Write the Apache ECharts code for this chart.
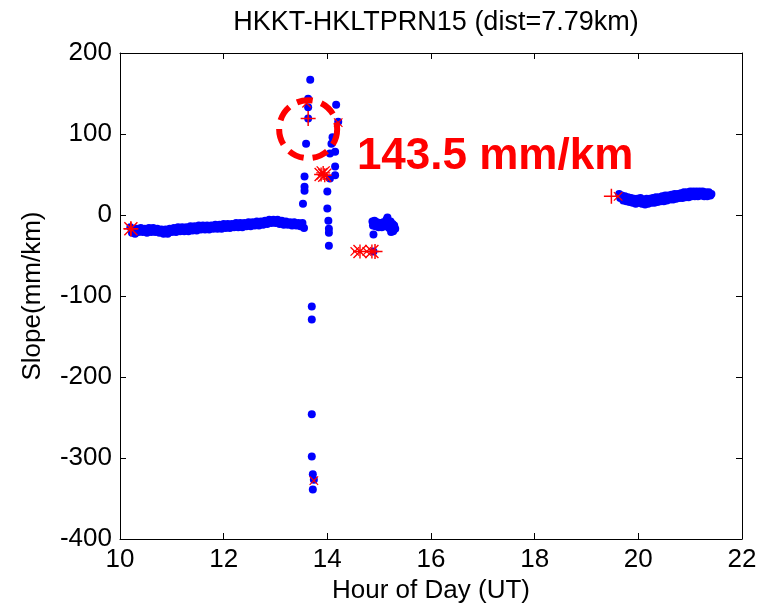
<!DOCTYPE html>
<html>
<head>
<meta charset="utf-8">
<script src="https://cdn.jsdelivr.net/npm/echarts@6/dist/echarts.min.js"></script>
<style>html,body{margin:0;padding:0;background:#fff}#c{width:763px;height:609px}</style>
</head>
<body>
<div id="c"></div>
<script>
// ---- data (hour of day, slope mm/km) ----
const titleText = 'HKKT-HKLTPRN15 (dist=7.79km)';
const xName = 'Hour of Day (UT)';
const yName = 'Slope(mm/km)';
const annotationText = '143.5 mm/km';

const seg1 = [[10.20,-15],[10.23,-22],[10.26,-18],[10.29,-23],[10.32,-17],[10.36,-21],[10.40,-16],[10.44,-21],[10.48,-17],[10.52,-22],[10.56,-16],[10.60,-21],[10.64,-16],[10.68,-21],[10.72,-17],[10.76,-22],[10.80,-18],[10.84,-23],[10.88,-18],[10.92,-23],[10.96,-17],[11.00,-21],[11.04,-16],[11.08,-21],[11.12,-15],[11.16,-20],[11.20,-15],[11.24,-20],[11.28,-15],[11.32,-20],[11.36,-14],[11.40,-19],[11.44,-14],[11.48,-19],[11.52,-13],[11.56,-18],[11.60,-13],[11.64,-18],[11.68,-13],[11.72,-18],[11.76,-13],[11.80,-17],[11.84,-12],[11.88,-17],[11.92,-12],[11.96,-17],[12.00,-11],[12.04,-16],[12.08,-11],[12.12,-16],[12.16,-11],[12.20,-15],[12.24,-10],[12.28,-15],[12.32,-10],[12.36,-15],[12.40,-10],[12.44,-14],[12.48,-9],[12.52,-14],[12.56,-9],[12.60,-13],[12.64,-8],[12.68,-13],[12.72,-8],[12.76,-12],[12.80,-7],[12.84,-11],[12.88,-6],[12.92,-10],[12.96,-6],[13.00,-10],[13.04,-6],[13.08,-11],[13.12,-7],[13.16,-12],[13.20,-8],[13.24,-12],[13.28,-9],[13.32,-13],[13.36,-9],[13.40,-13],[13.44,-10],[13.48,-14],[13.52,-10],[13.55,-16]];
const spike1 = [[13.67,167],[13.63,143.5],[13.63,133],[13.63,119],[13.59,88],[13.56,47.5],[13.56,35],[13.56,30],[13.53,14],[13.70,-113],[13.70,-129],[13.70,-246],[13.70,-298],[13.72,-320],[13.74,-327],[13.72,-339]];
const spike2 = [[14.17,136],[14.21,115],[14.10,96],[14.08,88],[14.15,78],[14.05,76],[14.15,60],[14.15,49],[14.05,45],[14.00,29],[14.00,8],[14.02,-7],[14.03,-17],[14.03,-22],[14.03,-38]];
const seg3 = [[14.87,-8],[14.88,-13],[14.91,-7],[14.93,-14],[14.96,-9],[14.99,-15],[15.02,-10],[15.05,-15],[15.08,-9],[15.11,-14],[15.14,-6],[15.16,-3],[15.18,-9],[15.20,-14],[15.22,-8],[15.24,-18],[15.26,-11],[15.27,-20],[15.29,-13],[15.31,-17],[15.23,-21],[15.19,-16],[14.89,-24],[14.89,-45]];
const seg4 = [[19.63,26],[19.65,21],[19.68,24],[19.71,18],[19.74,23],[19.77,17],[19.80,22],[19.83,16],[19.86,21],[19.89,15],[19.92,20],[19.95,14],[19.98,20],[20.01,15],[20.04,21],[20.07,14],[20.10,19],[20.13,13],[20.16,20],[20.19,14],[20.22,20],[20.25,15],[20.28,21],[20.31,15],[20.34,22],[20.37,16],[20.40,22],[20.43,17],[20.46,23],[20.49,17],[20.52,24],[20.55,18],[20.58,24],[20.61,19],[20.64,25],[20.67,19],[20.70,26],[20.73,20],[20.76,26],[20.79,21],[20.82,27],[20.85,21],[20.88,28],[20.91,22],[20.94,28],[20.97,22],[21.00,29],[21.03,23],[21.06,29],[21.09,23],[21.12,29],[21.15,23],[21.18,29],[21.21,24],[21.24,29],[21.27,23],[21.30,28],[21.33,23],[21.36,28],[21.39,24],[21.41,26]];

const redPlus = [[10.21,-17],[13.63,119],[14.92,-45],[19.48,23]];
const redCross = [[13.60,138],[14.21,114],[13.74,-328],[14.53,-45],[14.76,-45],[19.61,23]];
const redStar = [[10.21,-17],[13.88,50],[13.92,52],[13.95,49],[14.63,-45],[14.86,-45]];

const circleMark = [[13.63,106]];
const annotationAnchor = [[14.57,72]];

const xTicks = {min: 10, max: 22, interval: 2};
const yTicks = {min: -400, max: 200, interval: 100};

// ---- chart ----
const FONT = '"Liberation Sans", Arial, sans-serif';
const PLUS = 'path://M0,9H20V11H0Z M9,0H11V20H9Z';
const STAR = 'path://M0,9H20V11H0Z M9,0H11V20H9Z M1.4,0L20,18.6L18.6,20L0,1.4Z M18.6,0L20,1.4L1.4,20L0,18.6Z';

const blue = (d) => ({type:'scatter', data:d, symbol:'circle', symbolSize:8,
  itemStyle:{color:'#0000ff', opacity:1}, z:2, silent:true});

const axisCommon = {
  axisLine:{show:true, onZero:false, lineStyle:{color:'#000', width:1}},
  axisTick:{show:true, inside:true, length:6, lineStyle:{color:'#000', width:1}},
  splitLine:{show:false}
};

const chart = echarts.init(document.getElementById('c'), null, {renderer:'canvas'});
chart.setOption({
  animation:false,
  backgroundColor:'#fff',
  title:{text:titleText, left:431, textAlign:'center', top:4,
    textStyle:{fontFamily:FONT, fontSize:27, fontWeight:'normal', color:'#000'}},
  grid:{left:120, right:21, top:53, bottom:70, containLabel:false},
  xAxis:[
    Object.assign({type:'value', position:'bottom', min:xTicks.min, max:xTicks.max, interval:xTicks.interval,
      name:xName, nameLocation:'middle', nameGap:38,
      nameTextStyle:{fontFamily:FONT, fontSize:26, color:'#000'},
      axisLabel:{fontFamily:FONT, fontSize:26, color:'#000', margin:8}}, axisCommon),
    Object.assign({type:'value', position:'top', min:xTicks.min, max:xTicks.max, interval:xTicks.interval,
      axisLabel:{show:false}}, axisCommon)
  ],
  yAxis:[
    Object.assign({type:'value', position:'left', min:yTicks.min, max:yTicks.max, interval:yTicks.interval,
      name:yName, nameLocation:'middle', nameGap:74, nameRotate:90,
      nameTextStyle:{fontFamily:FONT, fontSize:26, color:'#000'},
      axisLabel:{fontFamily:FONT, fontSize:26, color:'#000', margin:8}}, axisCommon),
    Object.assign({type:'value', position:'right', min:yTicks.min, max:yTicks.max, interval:yTicks.interval,
      axisLabel:{show:false}}, axisCommon)
  ],
  series:[
    blue(seg1), blue(spike1), blue(spike2), blue(seg3), blue(seg4),
    {type:'scatter', data:redPlus, symbol:PLUS, symbolSize:15, itemStyle:{color:'#ff0000', opacity:1}, z:5, silent:true},
    {type:'scatter', data:redCross, symbol:PLUS, symbolSize:12, symbolRotate:45, itemStyle:{color:'#ff0000', opacity:1}, z:5, silent:true},
    {type:'scatter', data:redStar, symbol:STAR, symbolSize:14, itemStyle:{color:'#ff0000', opacity:1}, z:5, silent:true},
    {type:'scatter', data:circleMark, symbol:'circle', symbolSize:58,
      itemStyle:{color:'rgba(0,0,0,0)', borderColor:'#ff0000', borderWidth:6, borderType:[16,9], opacity:1}, z:6, silent:true},
    {type:'scatter', data:annotationAnchor, symbolSize:0, z:7, silent:true, itemStyle:{opacity:1},
      label:{show:true, position:'right', distance:0, formatter:annotationText,
        fontFamily:FONT, fontSize:44, fontWeight:'bold', color:'#ff0000'}}
  ]
});
</script>
</body>
</html>
